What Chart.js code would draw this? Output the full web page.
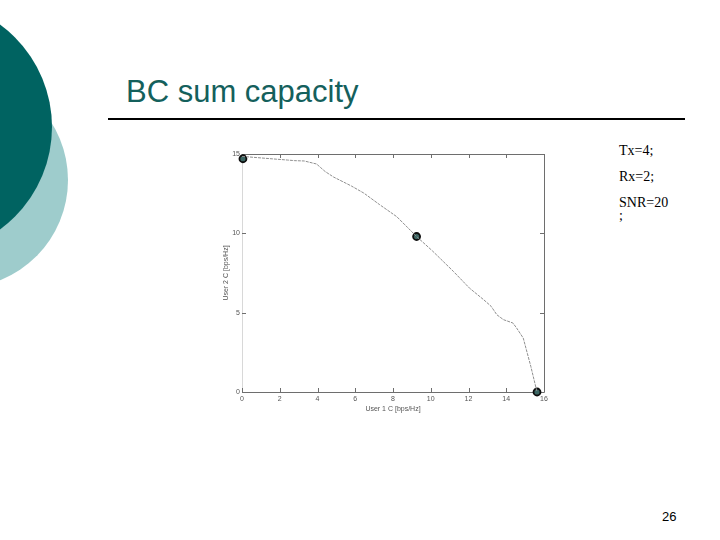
<!DOCTYPE html>
<html lang='en'>
<head>
  <meta charset='UTF-8'>
  <title>BC sum capacity</title>
  <style>
    * { box-sizing: border-box; }
    body { margin: 0; background: #ffffff; }
    .slide { position: relative; width: 720px; height: 540px; overflow: hidden; background: #fff; }
    .blob { position: absolute; border-radius: 50%; }
    .blob.light { left: -148px; top: 72px; width: 216px; height: 216px; background: #9ecccc; }
    .blob.dark { left: -202px; top: 0px; width: 254px; height: 254px; background: #006361; }
    .title { position: absolute; left: 126px; top: 74px; font: 31px 'Liberation Sans', Arial, sans-serif; color: #14605c; white-space: nowrap; }
    .rule { position: absolute; left: 108px; top: 118px; width: 577px; height: 2px; background: #000; }
    .params { position: absolute; left: 619px; top: 138px; font: 14px 'Liberation Serif', 'Times New Roman', serif; color: #000; line-height: 26px; }
    .params .semi { line-height: 14px; margin-top: -7px; }
    .page { position: absolute; left: 662px; top: 509px; font: 13px 'Liberation Sans', Arial, sans-serif; color: #000; }
    #chart { position: absolute; left: 0; top: 0; }
  </style>
  <script src="https://cdn.jsdelivr.net/npm/chart.js"></script>
</head>
<body>
  <div class='slide'>
    <div class='blob light'></div>
    <div class='blob dark'></div>
    <div class='title'>BC sum capacity</div>
    <div class='rule'></div>
    <div class='params'>
      <div>Tx=4;</div>
      <div>Rx=2;</div>
      <div>SNR=20</div>
      <div class='semi'>;</div>
    </div>
    <div class='page'>26</div>
    <canvas id='chart' width='720' height='540'></canvas>
  </div>

  <script>
    // capacity region boundary
    const user1Rate = [0, 1.75, 2.4, 2.8, 3.3, 3.95, 4.4, 4.85, 5.8, 6.45, 7.3, 8.2, 9.25, 10.1, 11.2, 12.05, 12.8, 13.2, 13.5, 13.85, 14.35, 14.55, 14.9, 15.3, 15.63];
    const user2Rate = [14.85, 14.68, 14.62, 14.58, 14.56, 14.37, 13.9, 13.55, 12.98, 12.54, 11.8, 11.05, 9.8, 8.88, 7.6, 6.55, 5.82, 5.4, 4.87, 4.56, 4.35, 4.03, 3.4, 1.62, 0];

    // marked corner / sum-rate points
    const markUser1 = [0.05, 9.25, 15.63];
    const markUser2 = [14.7, 9.8, 0];

    const xTicks = [0, 2, 4, 6, 8, 10, 12, 14, 16];
    const yTicks = [0, 5, 10, 15];

    const toPoints = (xs, ys) => xs.map((x, i) => ({ x: x, y: ys[i] }));

    // matlab style frame with inward ticks
    const framePlugin = {
      id: 'frame',
      beforeDatasetsDraw(chart) {
        const { ctx, chartArea: a, scales } = chart;
        ctx.save();
        ctx.lineWidth = 1;
        ctx.strokeStyle = '#6e6e6e';
        ctx.beginPath();
        ctx.moveTo(a.left, a.top + 0.5); ctx.lineTo(a.right + 0.5, a.top + 0.5);
        ctx.lineTo(a.right + 0.5, a.bottom + 0.5); ctx.lineTo(a.left, a.bottom + 0.5);
        ctx.stroke();
        ctx.strokeStyle = '#d8d8d8';
        ctx.beginPath();
        ctx.moveTo(a.left + 0.5, a.top); ctx.lineTo(a.left + 0.5, a.bottom);
        ctx.stroke();
        ctx.strokeStyle = '#6e6e6e';
        const len = 4;
        ctx.beginPath();
        xTicks.forEach(v => {
          const px = Math.round(scales.x.getPixelForValue(v)) + 0.5;
          ctx.moveTo(px, a.bottom); ctx.lineTo(px, a.bottom - len);
          ctx.moveTo(px, a.top); ctx.lineTo(px, a.top + len);
        });
        yTicks.forEach(v => {
          const py = Math.round(scales.y.getPixelForValue(v)) + 0.5;
          ctx.moveTo(a.left, py); ctx.lineTo(a.left + len, py);
          ctx.moveTo(a.right, py); ctx.lineTo(a.right - len, py);
        });
        ctx.stroke();
        ctx.restore();
      }
    };

    const tickFont = { family: "'Liberation Sans', Arial, sans-serif", size: 7 };

    new Chart(document.getElementById('chart'), {
      type: 'scatter',
      data: {
        datasets: [
          {
            data: toPoints(user1Rate, user2Rate),
            showLine: true,
            borderColor: '#8f8f8f',
            borderWidth: 1,
            borderDash: [3, 1],
            pointRadius: 0,
            tension: 0
          },
          {
            data: toPoints(markUser1, markUser2),
            showLine: false,
            clip: false,
            pointRadius: 3.5,
            pointBorderWidth: 1.8,
            pointBorderColor: '#0d0d0d',
            pointBackgroundColor: '#3b6663'
          }
        ]
      },
      options: {
        responsive: false,
        animation: false,
        layout: { padding: { left: 222, right: 176, top: 154, bottom: 127 } },
        plugins: { legend: { display: false }, tooltip: { enabled: false } },
        scales: {
          x: {
            type: 'linear', min: 0, max: 16,
            afterBuildTicks: s => { s.ticks = xTicks.map(v => ({ value: v })); },
            afterFit: s => { s.height = 21; },
            grid: { display: false, drawTicks: false },
            border: { display: false },
            ticks: { font: tickFont, color: '#555', padding: 3, maxRotation: 0 },
            title: { display: true, text: 'User 1 C [bps/Hz]', font: tickFont, color: '#555', padding: 0 }
          },
          y: {
            type: 'linear', min: 0, max: 15,
            afterBuildTicks: s => { s.ticks = yTicks.map(v => ({ value: v })); },
            afterFit: s => { s.width = 20; },
            grid: { display: false, drawTicks: false },
            border: { display: false },
            ticks: { font: tickFont, color: '#555', padding: 2 },
            title: { display: true, text: 'User 2 C [bps/Hz]', font: tickFont, color: '#555', padding: 0 }
          }
        }
      },
      plugins: [framePlugin]
    });
  </script>
</body>
</html>
